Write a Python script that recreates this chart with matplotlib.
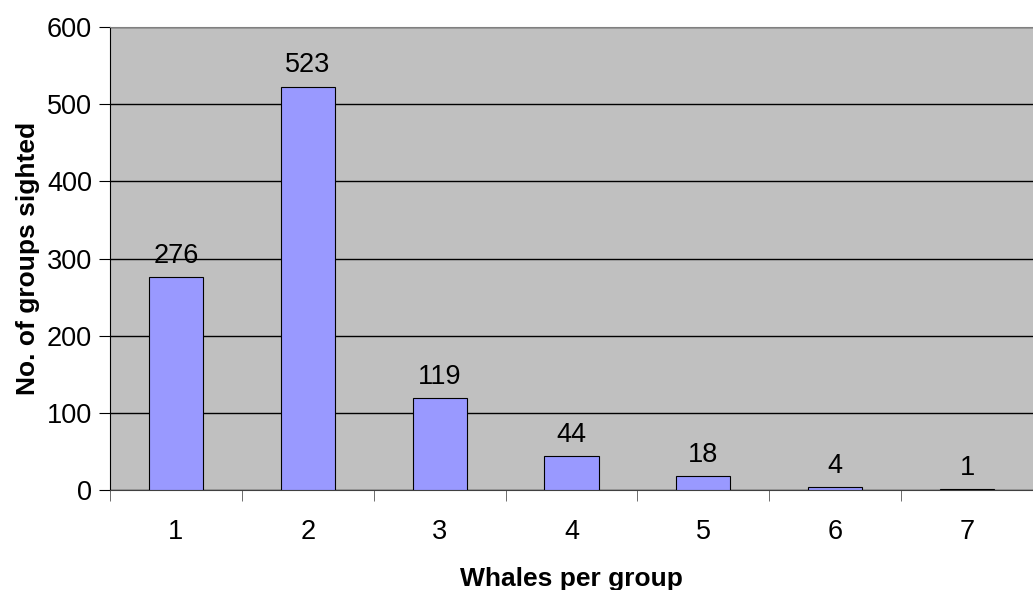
import matplotlib.pyplot as plt
import numpy as np

plt.rcParams['font.family'] = ['Liberation Sans', 'DejaVu Sans']

# data
group_sizes = ['1', '2', '3', '4', '5', '6', '7']
groups_sighted = [276, 523, 119, 44, 18, 4, 1]

fig = plt.figure(figsize=(10.33, 5.9), dpi=100)
ax = fig.add_axes([0.1065, 0.1695, 0.8935, 0.7845])
ax.set_facecolor('#C0C0C0')

x = np.arange(1, len(group_sizes) + 1)
bars = ax.bar(x, groups_sighted, width=0.41, color='#9999FF',
              edgecolor='black', linewidth=0.8, zorder=3)

for xi, v in zip(x, groups_sighted):
    ax.annotate(str(v), (xi, v), xytext=(0, 6), textcoords='offset points',
                ha='center', va='bottom', fontsize=19.5)

ax.set_xlim(0.5, 7.5)
ax.set_ylim(0, 600)
ax.set_yticks(range(0, 601, 100))
ax.yaxis.grid(True, color='black', linewidth=1)
ax.set_axisbelow(True)

ax.set_xticks(x)
ax.set_xticklabels(group_sizes)
ax.set_xticks(np.arange(0.5, 7.6, 1), minor=True)
ax.tick_params(axis='x', which='major', length=0, pad=21, labelsize=19.5)
ax.tick_params(axis='x', which='minor', length=8, color='#555555', direction='out')
ax.tick_params(axis='y', length=8, direction='out', labelsize=19.5, pad=5)

ax.spines['right'].set_visible(False)
ax.spines['top'].set_color('#808080')
ax.spines['bottom'].set_color('#404040')
ax.spines['left'].set_color('black')

ax.set_xlabel('Whales per group', fontsize=19, fontweight='bold', labelpad=16)
ax.set_ylabel('No. of groups sighted', fontsize=19, fontweight='bold', labelpad=5)

fig.savefig('out.png', dpi=100)
